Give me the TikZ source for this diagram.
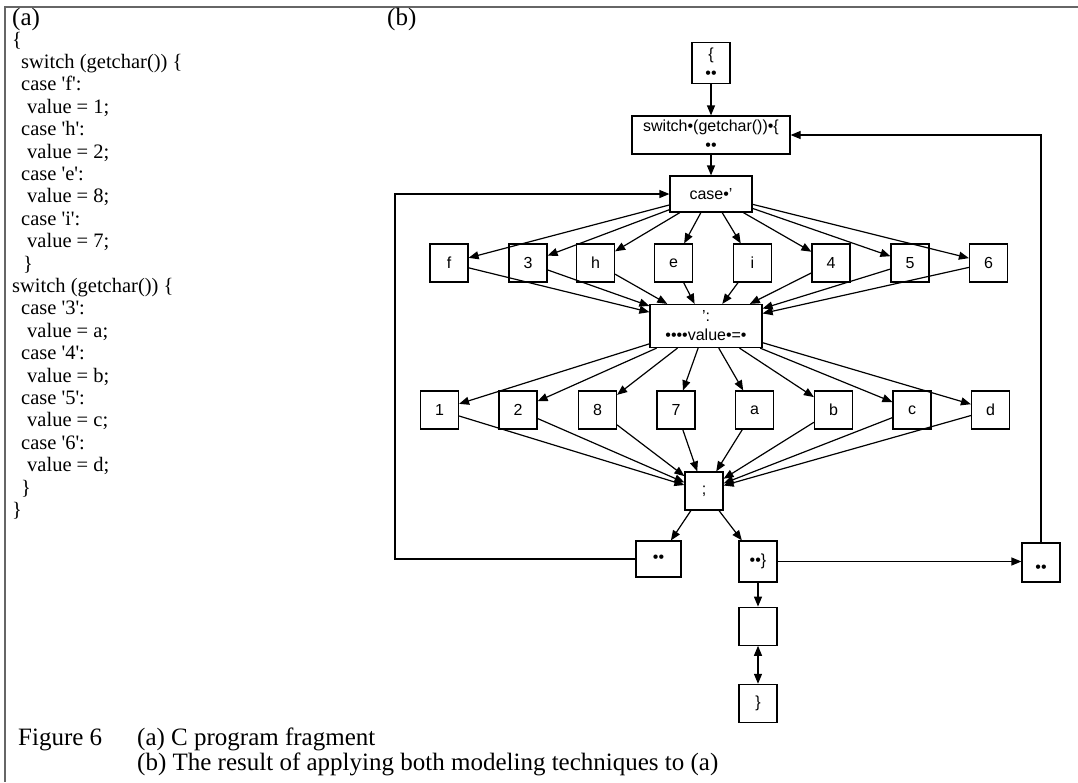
\documentclass[tikz,border=0pt]{standalone}
\usepackage{fontspec}
\setmainfont{Liberation Serif}
\newfontfamily\boxsans{Liberation Sans}
\usepackage{tikz}
\usetikzlibrary{arrows.meta, positioning}

\newcommand{\tq}{\textquotesingle}

\begin{document}
\begin{tikzpicture}[x=1pt, y=-1pt,
  box/.style={rectangle, draw, line width=1.2pt, inner sep=0pt, align=center, font=\boxsans\fontsize{16}{19}\selectfont},
  sq/.style={box, minimum width=38pt, minimum height=38pt},
  arrow/.style={-{Triangle[length=10pt,width=8pt]}, line width=1.2pt},
  dblarrow/.style={{Triangle[length=10pt,width=8pt]}-{Triangle[length=10pt,width=8pt]}, line width=1.2pt},
  code/.style={anchor=base west, inner sep=0pt, font=\fontsize{20.5}{24}\selectfont},
  label/.style={anchor=base west, inner sep=0pt, font=\fontsize{25}{30}\selectfont},
  caption/.style={anchor=base west, inner sep=0pt, font=\fontsize{25}{26}\selectfont},
  frame/.style={draw=black!60, line width=2pt}
]
  \useasboundingbox (0,0) rectangle (1078,782);
  \draw[frame] (1078,7) -- (5,7) -- (5,782);

  % (a) program text
  \node[label] (pa) at (12,25) {(a)};
  \foreach \ix/\txt [count=\n] in {12/{\{}, 21/{switch (getchar()) \{}, 21/{case \tq f\tq:}, 27/{value = 1;},
      21/{case \tq h\tq:}, 27/{value = 2;}, 21/{case \tq e\tq:}, 27/{value = 8;}, 21/{case \tq i\tq:}, 27/{value = 7;},
      23/{\}}, 12/{switch (getchar()) \{}, 21/{case \tq 3\tq:}, 27/{value = a;}, 21/{case \tq 4\tq:}, 27/{value = b;},
      21/{case \tq 5\tq:}, 27/{value = c;}, 21/{case \tq 6\tq:}, 27/{value = d;}, 21/{\}}, 12/{\}}}
    \node[code] (c\n) at (\ix, 23.6+22.4*\n) {\txt};

  % (b) graph
  \node[label] (pb) at (387,25) {(b)};
  \node[box, minimum width=38pt, minimum height=41pt] (open) at (711,63) {\{\\••};
  \node[box, minimum width=158pt, minimum height=38pt] (sw) at (711,135) {switch•(getchar())•\{\\••};
  \node[box, minimum width=82pt, minimum height=36pt] (cs) at (711,194) {case•’};

  \node[sq] (f) at (449,263) {f};
  \node[sq] (n3) at (528,263) {3};
  \node[sq] (h) at (595.5,263) {h};
  \node[sq] (e) at (673.5,263) {e};
  \node[sq] (i) at (752.5,263) {i};
  \node[sq] (n4) at (831,263) {4};
  \node[sq] (n5) at (910,263) {5};
  \node[sq] (n6) at (988.5,263) {6};

  \node[box, minimum width=112pt, minimum height=43pt] (val) at (706,326) {’:\\••••value•=•};

  \node[sq] (n1) at (439.5,410) {1};
  \node[sq] (n2) at (518,410) {2};
  \node[sq] (n8) at (597.5,410) {8};
  \node[sq] (n7) at (676,410) {7};
  \node[sq] (a) at (754.5,410) {a};
  \node[sq] (b) at (833.5,410) {b};
  \node[sq] (c) at (912,410) {c};
  \node[sq] (d) at (990.5,410) {d};

  \node[sq] (semi) at (704,491) {;};
  \node[box, minimum width=45pt, minimum height=36pt] (dl) at (658.5,559) {••};
  \node[box, minimum width=38pt, minimum height=41pt] (dm) at (758,561.5) {••\}};
  \node[box, minimum width=38pt, minimum height=39pt] (dr) at (1041,562.5) {\mbox{}\\••};
  \node[sq, below=24pt of dm] (blank) {};
  \node[sq, below=38pt of blank] (close) {\}};
  \coordinate (loopx) at (395,0);

  \draw[arrow] (open) -- (sw);
  \draw[arrow] (sw) -- (cs);
  \foreach \t in {f,n3,h,e,i,n4,n5,n6} {
    \draw[arrow] (cs) -- (\t);
    \draw[arrow] (\t) -- (val);
  }
  \foreach \t in {n1,n2,n8,n7,a,b,c,d} {
    \draw[arrow] (val) -- (\t);
    \draw[arrow] (\t) -- (semi);
  }
  \draw[arrow] (semi) -- (dl);
  \draw[arrow] (semi) -- (dm);
  \draw[arrow] (dl.west) -- (dl.west -| loopx) |- (cs.west);
  \draw[arrow] (dm.east) -- (dm.east -| dr.west);
  \draw[arrow] (dr.north) |- (sw.east);
  \draw[arrow] (dm) -- (blank);
  \draw[dblarrow] (blank) -- (close);

  % caption
  \node[caption] (fig) at (18,745) {Figure 6};
  \node[caption] (capa) at (137,745) {(a) C program fragment};
  \node[caption] (capb) at (137,770) {(b) The result of applying both modeling techniques to (a)};
\end{tikzpicture}
\end{document}
